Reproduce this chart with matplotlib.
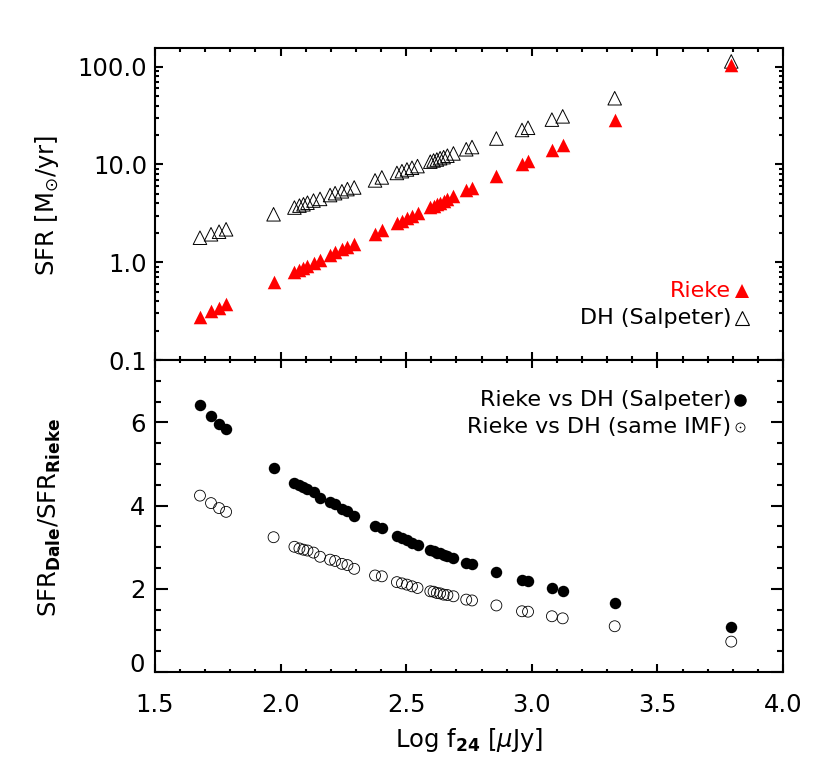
import matplotlib
matplotlib.use("Agg")
import matplotlib.pyplot as plt
from matplotlib.ticker import MultipleLocator, FixedLocator, LogLocator, NullFormatter

# ---------------- data ----------------
log_f24 = [1.679, 1.723, 1.755, 1.783, 1.972, 2.055, 2.075, 2.091, 2.107, 2.131,
           2.157, 2.197, 2.217, 2.244, 2.266, 2.293, 2.376, 2.403, 2.463, 2.483,
           2.503, 2.523, 2.545, 2.596, 2.609, 2.622, 2.635, 2.649, 2.664, 2.688,
           2.739, 2.762, 2.859, 2.961, 2.985, 3.080, 3.123, 3.330, 3.794]

sfr_rieke = [0.277, 0.314, 0.344, 0.372, 0.63, 0.80, 0.84, 0.88, 0.92, 0.99,
             1.06, 1.19, 1.26, 1.35, 1.44, 1.55, 1.96, 2.12, 2.51, 2.65,
             2.80, 2.97, 3.15, 3.64, 3.77, 3.91, 4.06, 4.22, 4.40, 4.71,
             5.43, 5.79, 7.6, 10.2, 10.8, 14.2, 15.8, 28.6, 105.0]

sfr_dh_salpeter = [1.78, 1.93, 2.05, 2.17, 3.09, 3.62, 3.79, 3.91, 4.06, 4.27,
                   4.44, 4.86, 5.08, 5.31, 5.59, 5.81, 6.86, 7.36, 8.18, 8.53,
                   8.88, 9.24, 9.61, 10.67, 10.97, 11.22, 11.57, 11.86, 12.28, 12.95,
                   14.28, 15.05, 18.4, 22.5, 23.7, 28.7, 31.0, 47.5, 113.0]

ratio_salpeter = [6.41, 6.15, 5.96, 5.83, 4.90, 4.55, 4.49, 4.44, 4.40, 4.33,
                  4.19, 4.08, 4.03, 3.93, 3.88, 3.75, 3.50, 3.47, 3.26, 3.22,
                  3.17, 3.11, 3.05, 2.93, 2.91, 2.87, 2.85, 2.81, 2.79, 2.75,
                  2.63, 2.60, 2.40, 2.21, 2.18, 2.02, 1.95, 1.66, 1.09]

ratio_same_imf = [4.24, 4.06, 3.94, 3.85, 3.24, 3.01, 2.97, 2.94, 2.92, 2.87,
                  2.77, 2.70, 2.67, 2.60, 2.57, 2.48, 2.32, 2.30, 2.16, 2.13,
                  2.10, 2.06, 2.02, 1.94, 1.93, 1.90, 1.89, 1.86, 1.85, 1.82,
                  1.74, 1.72, 1.60, 1.46, 1.45, 1.34, 1.29, 1.10, 0.73]

top_yticks = [0.1, 1.0, 10.0, 100.0]
top_yticklabels = ["0.1", "1.0", "10.0", "100.0"]
bottom_yticks = [0, 2, 4, 6]
xticks = [1.5, 2.0, 2.5, 3.0, 3.5, 4.0]
xticklabels = ["1.5", "2.0", "2.5", "3.0", "3.5", "4.0"]

# ---------------- style ----------------
plt.rcParams["font.family"] = ["DejaVu Sans"]
plt.rcParams["mathtext.fontset"] = "dejavusans"
plt.rcParams["font.size"] = 17.5
LEG_FS = 16

W, H = 830, 771
fig = plt.figure(figsize=(W / 100, H / 100), dpi=100)
L, R = 155, 783
ax1 = fig.add_axes([L / W, 1 - 360 / H, (R - L) / W, 312 / H])
ax2 = fig.add_axes([L / W, 1 - 672 / H, (R - L) / W, 312 / H])

for ax in (ax1, ax2):
    for sp in ax.spines.values():
        sp.set_linewidth(1.5)
    ax.set_xlim(1.5, 4.0)
    ax.xaxis.set_major_locator(FixedLocator(xticks))
    ax.xaxis.set_minor_locator(MultipleLocator(0.1))
    ax.tick_params(which="both", direction="in", top=True, right=True,
                   width=1.5, colors="black")

# ---------------- top panel ----------------
ax1.scatter(log_f24, sfr_dh_salpeter, marker="^", s=95, facecolors="none",
            edgecolors="black", linewidths=0.7, zorder=3)
ax1.scatter(log_f24, sfr_rieke, marker="^", s=95, color="red",
            linewidths=0, zorder=4)
ax1.set_yscale("log")
ax1.set_ylim(0.1, 155)
ax1.yaxis.set_major_locator(FixedLocator(top_yticks))
ax1.set_yticklabels(top_yticklabels)
ax1.yaxis.set_minor_locator(LogLocator(base=10, subs=range(2, 10), numticks=20))
ax1.yaxis.set_minor_formatter(NullFormatter())
ax1.tick_params(axis="x", labelbottom=False)
ax1.tick_params(which="major", length=6)
ax1.tick_params(which="minor", length=3)
ax1.tick_params(axis="y", which="both", pad=5.5)

fig.text(47 / W, 1 - 205 / H, r"SFR [M$_{\odot}$/yr]", rotation=90,
         ha="center", va="center")

# legend (top)
tx = (731 - L) / (R - L)
mx = (742 - L) / (R - L)
ax1.text(tx, (360 - 291) / 312, "Rieke", color="red", ha="right", va="center",
         fontsize=LEG_FS, transform=ax1.transAxes)
ax1.text(tx, (360 - 318) / 312, "DH (Salpeter)", color="black", ha="right",
         va="center", fontsize=LEG_FS, transform=ax1.transAxes)
ax1.plot([mx], [(360 - 291) / 312], marker="^", ms=10, color="red", mew=0,
         transform=ax1.transAxes, clip_on=False)
ax1.plot([mx], [(360 - 318) / 312], marker="^", ms=10, mfc="none", mec="black",
         mew=0.8, transform=ax1.transAxes, clip_on=False)

# ---------------- bottom panel ----------------
ax2.scatter(log_f24, ratio_salpeter, marker="o", s=68, color="black",
            linewidths=0, zorder=3)
ax2.scatter(log_f24, ratio_same_imf, marker="o", s=62, facecolors="none",
            edgecolors="black", linewidths=0.6, zorder=3)
ax2.set_ylim(0, 7.5)
ax2.yaxis.set_major_locator(FixedLocator(bottom_yticks))
ax2.yaxis.set_minor_locator(MultipleLocator(0.5))
ax2.set_xticklabels(xticklabels)
ax2.tick_params(axis="x", which="major", length=6, pad=15)
ax2.tick_params(axis="x", which="minor", length=2.5)
ax2.tick_params(axis="y", which="major", length=9, pad=7)
ax2.tick_params(axis="y", which="minor", length=4.5)
ax2.get_yticklabels()[0].set_va("baseline")

fig.text(50 / W, 1 - 517 / H, r"SFR$_{\mathbf{Dale}}$/SFR$_{\mathbf{Rieke}}$",
         rotation=90, ha="center", va="center")
fig.text((L + R) / 2 / W, 1 - 740 / H, r"Log f$_{\mathbf{24}}$ [$\mu$Jy]",
         ha="center", va="center")

# legend (bottom)
mx2 = (740 - L) / (R - L)
ax2.text(tx, (672 - 400) / 312, "Rieke vs DH (Salpeter)", ha="right",
         va="center", fontsize=LEG_FS, transform=ax2.transAxes)
ax2.text(tx, (672 - 427) / 312, "Rieke vs DH (same IMF)", ha="right",
         va="center", fontsize=LEG_FS, transform=ax2.transAxes)
ax2.plot([mx2], [(672 - 400) / 312], marker="o", ms=9, color="black", mew=0,
         transform=ax2.transAxes, clip_on=False)
ax2.plot([mx2], [(672 - 427) / 312], marker="o", ms=6.5, mfc="none", mec="black",
         mew=0.6, transform=ax2.transAxes, clip_on=False)
ax2.plot([mx2], [(672 - 427) / 312], marker="o", ms=1.2, color="black", mew=0,
         transform=ax2.transAxes, clip_on=False)

fig.savefig("out.png", dpi=100)
